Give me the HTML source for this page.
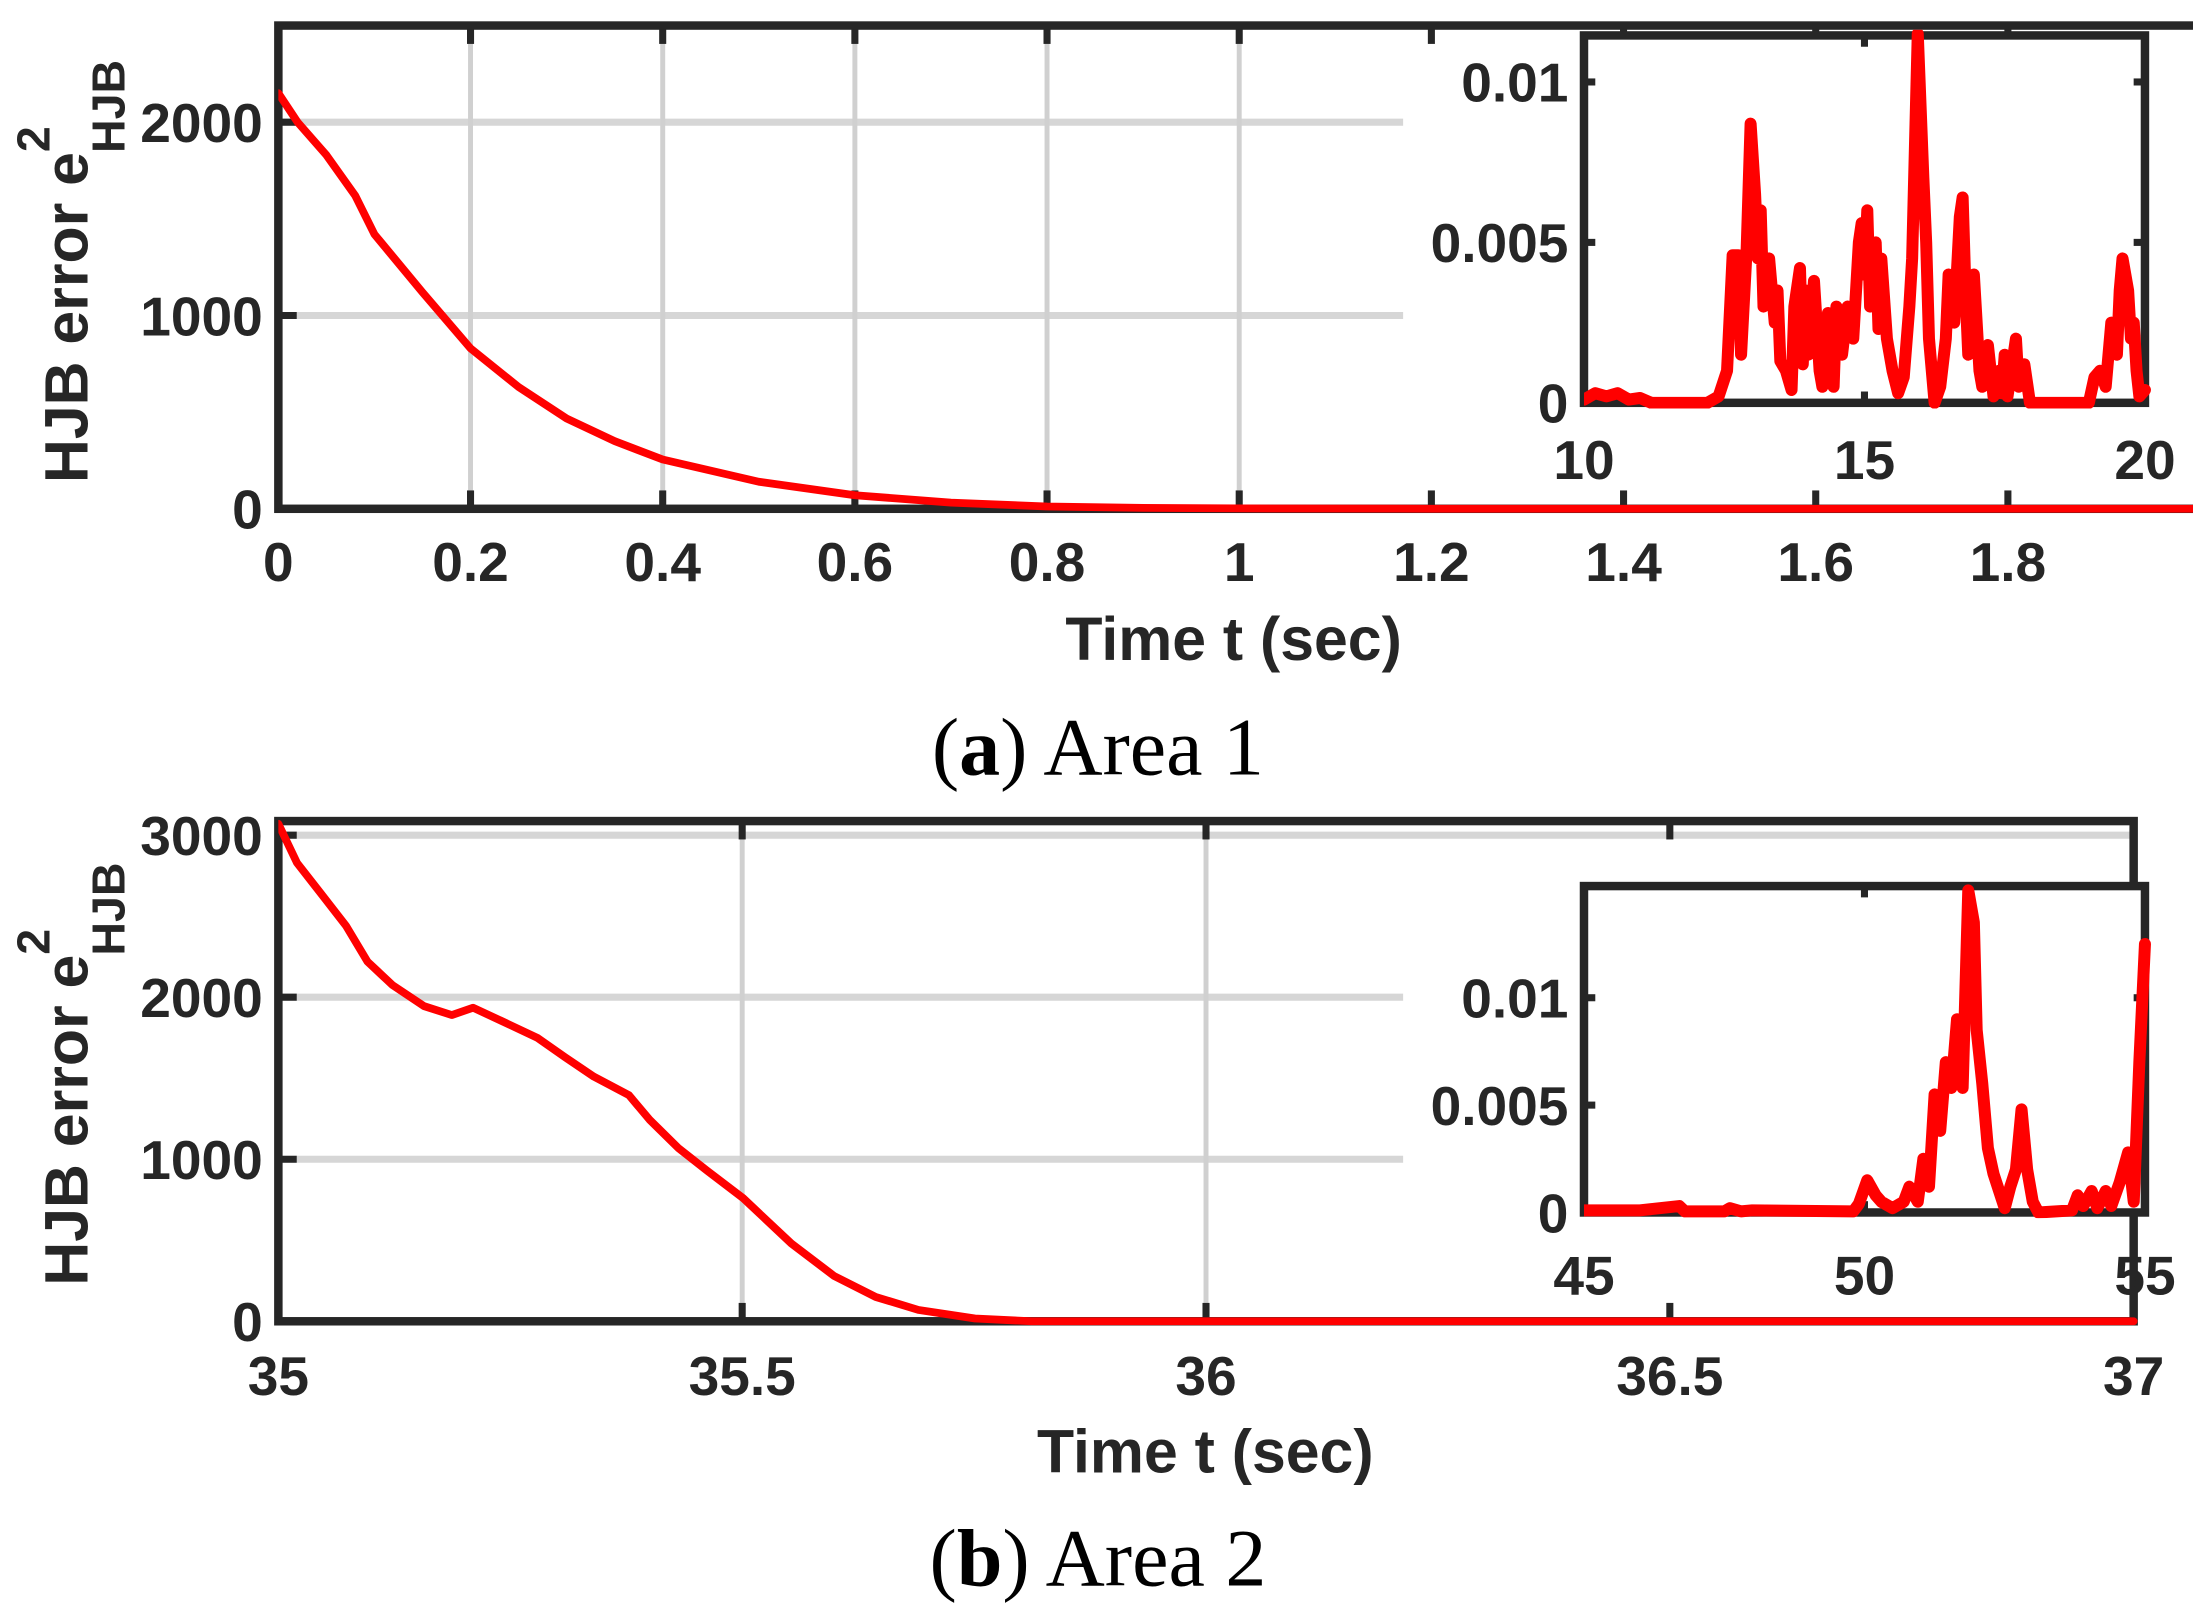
<!DOCTYPE html>
<html><head><meta charset="utf-8"><style>
html,body{margin:0;padding:0;background:#fff;}
svg{display:block;}
.tk{font-family:"Liberation Sans",Arial,sans-serif;font-weight:bold;font-size:39px;fill:#262626;}
.lb{font-family:"Liberation Sans",Arial,sans-serif;font-weight:bold;font-size:43px;fill:#262626;}
.cap{font-family:"Liberation Serif","Times New Roman",serif;font-size:58px;fill:#000;}
</style></head><body>
<svg id="fig" width="2193" height="1604" viewBox="0 0 1552 1135" xmlns="http://www.w3.org/2000/svg">
<rect width="1552" height="1135" fill="#fff"/>
<g id="layer"></g>
<text class="lb" x="873" y="467" text-anchor="middle">Time t (sec)</text>
<text class="lb" transform="translate(62,192) rotate(-90)" text-anchor="middle">HJB error e<tspan font-size="33" dy="-27">2</tspan><tspan font-size="33" dx="-19" dy="27">​</tspan><tspan font-size="33" dy="26">HJB</tspan></text>
<text class="cap" x="777" y="548" text-anchor="middle">(<tspan font-weight="bold">a</tspan>) Area 1</text>
<text class="lb" x="853" y="1042" text-anchor="middle">Time t (sec)</text>
<text class="lb" transform="translate(62,760) rotate(-90)" text-anchor="middle">HJB error e<tspan font-size="33" dy="-27">2</tspan><tspan font-size="33" dx="-19" dy="27">​</tspan><tspan font-size="33" dy="26">HJB</tspan></text>
<text class="cap" x="777" y="1122" text-anchor="middle">(<tspan font-weight="bold">b</tspan>) Area 2</text>
</svg>
<script>
// ---- data: panel (a) main
const aT = [0,0.02,0.05,0.08,0.1,0.15,0.2,0.25,0.3,0.35,0.4,0.5,0.6,0.7,0.8,0.9,1.0,1.2,1.5,2.0];
const aV = [2150,2000,1830,1620,1420,1120,830,630,467,350,255,140,70,32,12,5,2,0.5,0,0];
// panel (a) inset (x 10-20, values x1e-3)
const aiT = [10,10.2,10.4,10.6,10.8,11,11.2,12.2,12.4,12.55,12.65,12.75,12.8,12.9,12.97,13.05,13.1,13.15,13.2,13.3,13.4,13.45,13.5,13.6,13.7,13.75,13.85,13.9,13.95,14.0,14.1,14.2,14.25,14.35,14.45,14.5,14.6,14.7,14.8,14.9,14.95,15.0,15.05,15.1,15.2,15.25,15.3,15.4,15.5,15.6,15.7,15.8,15.85,15.95,16.05,16.1,16.15,16.25,16.35,16.45,16.5,16.6,16.7,16.75,16.8,16.85,16.95,17.05,17.1,17.2,17.3,17.4,17.45,17.5,17.55,17.6,17.7,17.75,17.85,17.95,19.0,19.1,19.2,19.3,19.4,19.5,19.55,19.6,19.7,19.75,19.8,19.85,19.9,20];
const aiV = [0.1,0.3,0.2,0.3,0.1,0.15,0,0,0.2,1.0,4.6,4.6,1.5,4.8,8.7,6.5,4.5,6.0,3.0,4.5,2.5,3.5,1.3,1.0,0.4,3.0,4.2,1.2,3.5,1.5,3.8,1.0,0.5,2.8,0.5,3.0,1.5,3.0,2.0,5.0,5.6,4.0,6.0,3.0,5.0,2.3,4.5,2.0,1.0,0.3,0.8,3.0,4.5,11.5,7.0,5.0,2.0,0,0.5,2.0,4.0,2.5,5.8,6.4,3.5,1.5,4.0,1.0,0.5,1.8,0.2,1.0,0.3,1.5,0.2,0.8,2.0,0.5,1.2,0,0,0.8,1.0,0.5,2.5,1.5,3.5,4.5,3.5,2.0,2.5,1.0,0.2,0.4];
// panel (b) main
const bT = [35,35.02,35.05,35.073,35.096,35.123,35.157,35.187,35.21,35.24,35.279,35.309,35.34,35.378,35.4,35.431,35.462,35.501,35.553,35.599,35.644,35.69,35.751,35.812,36,37];
const bV = [3070,2830,2610,2440,2220,2075,1945,1890,1935,1855,1750,1630,1510,1395,1245,1070,930,760,480,280,150,70,17,0,0,0];
// panel (b) inset (x 45-55, values x1e-3)
const biT = [45,46,46.7,46.8,47.5,47.6,47.8,48,49.8,49.9,50.05,50.2,50.3,50.5,50.7,50.8,50.95,51.05,51.15,51.25,51.35,51.45,51.55,51.65,51.75,51.85,51.95,52.0,52.1,52.2,52.3,52.4,52.5,52.6,52.7,52.8,52.9,53.0,53.1,53.7,53.8,53.9,54.05,54.15,54.3,54.4,54.55,54.7,54.8,54.9,55];
const biV = [0.1,0.1,0.3,0.05,0.05,0.2,0.05,0.1,0.05,0.4,1.5,0.8,0.5,0.2,0.5,1.2,0.5,2.5,1.2,5.5,3.8,7.0,5.8,9.0,5.8,15.0,13.5,8.5,6.0,3.0,1.8,1.0,0.2,1.2,2.0,4.8,2.0,0.5,0,0.1,0.8,0.3,1.0,0.2,1.0,0.3,1.4,2.8,0.5,7.0,12.5];
// tick labels
const aXTicks = [0,0.2,0.4,0.6,0.8,1,1.2,1.4,1.6,1.8];
const aYTicks = [0,1000,2000];
const aiXTicks = [10,15,20];
const aiYTicks = [0,0.005,0.01];
const bXTicks = [35,35.5,36,36.5,37];
const bYTicks = [0,1000,2000,3000];
const biXTicks = [45,50,55];
const biYTicks = [0,0.005,0.01];

const NS = "http://www.w3.org/2000/svg";
const layer = document.getElementById('layer');
function mk(tag, attrs, parent){
  const e = document.createElementNS(NS, tag);
  for (const k in attrs) e.setAttribute(k, attrs[k]);
  (parent||layer).appendChild(e);
  return e;
}
function axes(o){
  const sx = v => o.x0 + (v - o.xmin) / (o.xmax - o.xmin) * (o.x1 - o.x0);
  const sy = v => o.y1 - (v - o.ymin) / (o.ymax - o.ymin) * (o.y1 - o.y0);
  const g = mk('g', {});
  
  
  mk('rect', {x:o.x0, y:o.y0, width:o.x1-o.x0, height:o.y1-o.y0, fill:'#fff'}, g);
  if (o.grid) {
    o.yt.forEach(v => {
      const y = sy(v);
      const xe = (y < o.gridFullAbove) ? o.x1 : o.gridEnd;
      const l = mk('line', {x1:o.x0, x2:xe, y1:y, y2:y, stroke:'#d6d6d6', 'stroke-width':5}, g);
      
      
    });
    o.xt.forEach(v => {
      const x = sx(v);
      if (x > o.x0 + 3 && x < o.gridEnd) {
        const l = mk('line', {x1:x, x2:x, y1:o.y0, y2:o.y1, stroke:'#d0d0d0', 'stroke-width':3.5}, g);
        
        
      }
    });
  }
  const pts = o.t.map((t,i) => sx(t).toFixed(2) + ',' + sy(o.v[i] * o.vs).toFixed(2)).join(' ');
  const cid = 'clip' + o.name;
  const cp = mk('clipPath', {id:cid}, g);
  mk('rect', {x:o.x0, y:o.y0 - 4, width:o.x1 - o.x0 + 6, height:o.y1 - o.y0 + 8}, cp);
  const bx = mk('rect', {x:o.x0, y:o.y0, width:o.x1-o.x0, height:o.y1-o.y0, fill:'none', stroke:'#262626', 'stroke-width':o.bw}, g);
  
  
  const tl = o.tl;
  o.xt.forEach(v => {
    const x = sx(v);
    mk('line', {x1:x, x2:x, y1:o.y1, y2:o.y1 - tl, stroke:'#262626', 'stroke-width':5}, g);
    mk('line', {x1:x, x2:x, y1:o.y0, y2:o.y0 + tl, stroke:'#262626', 'stroke-width':5}, g);
    const t = mk('text', {x:x, y:o.xly, 'text-anchor':'middle', class:'tk'}, g);
    
    
    t.textContent = String(v);
  });
  o.yt.forEach(v => {
    const y = sy(v);
    mk('line', {x1:o.x0, x2:o.x0 + tl, y1:y, y2:y, stroke:'#262626', 'stroke-width':5}, g);
    if (o.rightTicks) mk('line', {x1:o.x1, x2:o.x1 - tl, y1:y, y2:y, stroke:'#262626', 'stroke-width':5}, g);
    const t = mk('text', {x:o.x0 - 11, y:y + 14, 'text-anchor':'end', class:'tk'}, g);
    
    
    t.textContent = String(v);
  });
  const pl = mk('polyline', {points:pts, fill:'none', stroke:'#ff0000', 'stroke-width':o.lw, 'stroke-linejoin':'round', 'stroke-linecap':'round', 'clip-path':'url(#'+cid+')'}, g);
  
  
}
axes({name:'main-a', x0:197, x1:1557, y0:18, y1:360, xmin:0, xmax:2, ymin:0, ymax:2500,
  t:aT, v:aV, vs:1, xt:aXTicks, yt:aYTicks, grid:true, gridEnd:993, gridFullAbove:-1,
  lw:5.5, bw:6, tl:13, xly:411, rightTicks:false});
axes({name:'inset-a', x0:1121, x1:1518, y0:25, y1:285, xmin:10, xmax:20, ymin:0, ymax:0.01145,
  t:aiT, v:aiV, vs:0.001, xt:aiXTicks, yt:aiYTicks, grid:false,
  lw:8.5, bw:6, tl:8, xly:339, rightTicks:true});
axes({name:'main-b', x0:197, x1:1510, y0:581, y1:935, xmin:35, xmax:37, ymin:0, ymax:3087,
  t:bT, v:bV, vs:1, xt:bXTicks, yt:bYTicks, grid:true, gridEnd:993, gridFullAbove:610,
  lw:5.5, bw:6, tl:13, xly:987, rightTicks:false});
axes({name:'inset-b', x0:1121, x1:1518, y0:627, y1:858, xmin:45, xmax:55, ymin:0, ymax:0.0152,
  t:biT, v:biV, vs:0.001, xt:biXTicks, yt:biYTicks, grid:false,
  lw:8.5, bw:6, tl:8, xly:916, rightTicks:true});
</script>
</body></html>
